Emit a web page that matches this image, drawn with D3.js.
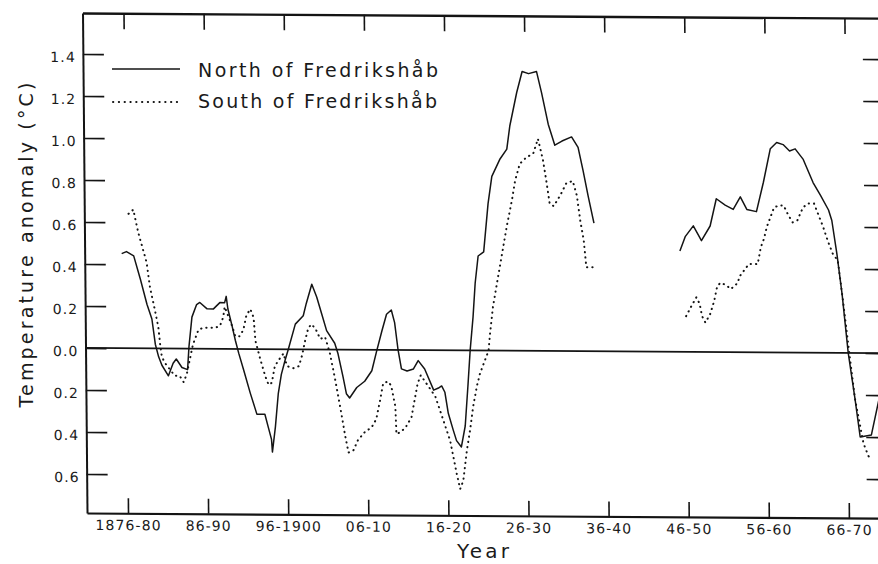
<!DOCTYPE html>
<html><head><meta charset="utf-8">
<script src="https://cdn.jsdelivr.net/npm/d3@7"></script>
<style>
html,body{margin:0;padding:0;background:#fff;}
svg{display:block;}
text{font-family:"DejaVu Sans",sans-serif;fill:#1a1a1a;}
</style></head><body>
<svg id="chart" width="878" height="564"></svg>
<script>
// ---- data ----
const xTickYears = [1878, 1888, 1898, 1908, 1918, 1928, 1938, 1948, 1958, 1968];
const xTickLabels = ["1876-80", "86-90", "96-1900", "06-10", "16-20", "26-30", "36-40", "46-50", "56-60", "66-70"];
const yTickValues = [-0.6, -0.4, -0.2, 0, 0.2, 0.4, 0.6, 0.8, 1.0, 1.2, 1.4];
const yTickLabels = ["0.6", "0.4", "0.2", "0.0", "0.2", "0.4", "0.6", "0.8", "1.0", "1.2", "1.4"];
const seriesNames = ["North of Fredrikshåb", "South of Fredrikshåb"];
const yTitle = "Temperature anomaly (°C)";
const xTitle = "Year";

const northYears = [1877.5,1878.1,1879.0,1879.8,1880.6,1881.2,1881.6,1882.0,1882.4,1883.2,1883.8,1884.2,1884.9,1885.6,1885.8,1886.2,1886.8,1887.2,1888.1,1888.9,1889.7,1890.3,1890.5,1890.7,1891.2,1891.6,1892.0,1892.6,1893.4,1894.2,1895.2,1895.6,1896.0,1896.1,1896.5,1896.9,1897.3,1897.8,1898.2,1899.1,1900.1,1900.5,1901.2,1901.8,1902.4,1903.0,1904.0,1904.4,1905.0,1905.4,1905.8,1906.7,1907.7,1908.6,1909.2,1909.9,1910.5,1911.1,1911.5,1911.9,1912.3,1913.0,1913.8,1914.4,1915.2,1916.3,1916.9,1917.3,1917.7,1918.1,1918.7,1919.1,1919.7,1920.2,1920.6,1920.9,1921.3,1921.6,1922.0,1922.7,1923.3,1923.8,1924.8,1925.7,1926.1,1927.0,1927.7,1928.5,1929.5,1930.1,1930.9,1931.7,1932.6,1933.8,1934.6,1935.2,1935.8,1936.5,1942.0,1947.2,1947.9,1948.9,1949.9,1951.0,1951.8,1952.9,1953.9,1954.8,1955.6,1956.8,1957.7,1958.6,1959.4,1960.2,1961.0,1961.7,1962.7,1963.9,1964.8,1965.8,1966.2,1966.8,1967.4,1968.1,1968.9,1969.5,1970.9,1972.0];
const northValues = [0.45,0.46,0.44,0.33,0.21,0.14,0.02,-0.04,-0.08,-0.13,-0.07,-0.05,-0.09,-0.10,0.01,0.15,0.21,0.22,0.19,0.19,0.22,0.22,0.25,0.19,0.11,0.04,-0.02,-0.10,-0.21,-0.31,-0.31,-0.37,-0.43,-0.49,-0.37,-0.21,-0.12,-0.05,0.00,0.12,0.16,0.22,0.31,0.25,0.17,0.09,0.03,-0.02,-0.13,-0.21,-0.23,-0.18,-0.15,-0.10,-0.01,0.09,0.17,0.19,0.13,0.00,-0.09,-0.10,-0.09,-0.05,-0.09,-0.19,-0.18,-0.17,-0.20,-0.30,-0.38,-0.43,-0.46,-0.36,-0.16,0.00,0.16,0.32,0.45,0.47,0.70,0.83,0.91,0.96,1.07,1.23,1.33,1.32,1.33,1.23,1.08,0.98,1.00,1.02,0.97,0.86,0.74,0.61,null,0.48,0.55,0.60,0.53,0.60,0.73,0.70,0.68,0.74,0.68,0.67,0.81,0.97,1.00,0.99,0.96,0.97,0.92,0.81,0.75,0.68,0.63,0.47,0.28,0.00,-0.22,-0.40,-0.39,-0.20];

const southYears = [1878.4,1879.0,1879.6,1880.6,1881.0,1881.6,1882.0,1882.2,1882.4,1882.8,1883.4,1884.0,1884.6,1885.1,1885.5,1885.9,1886.3,1887.0,1887.6,1888.4,1889.1,1889.7,1890.1,1890.3,1890.8,1891.2,1891.6,1892.1,1892.6,1893.0,1893.5,1893.9,1894.1,1894.7,1895.3,1895.7,1896.1,1896.5,1897.2,1897.6,1898.0,1898.8,1899.5,1899.9,1900.3,1900.7,1901.1,1901.6,1902.2,1902.8,1903.4,1904.0,1904.6,1905.2,1905.6,1906.2,1906.8,1907.7,1908.5,1909.1,1909.6,1910.0,1910.6,1911.0,1911.5,1911.6,1912.2,1912.9,1913.5,1913.9,1914.3,1914.7,1916.5,1918.3,1918.7,1919.1,1919.5,1919.9,1920.4,1920.8,1921.2,1921.7,1922.1,1922.7,1923.2,1923.4,1923.8,1924.7,1925.6,1926.3,1926.7,1927.3,1928.1,1929.0,1929.6,1930.2,1930.6,1931.0,1931.5,1932.3,1933.1,1933.9,1934.4,1934.8,1935.2,1935.5,1936.4,1942.0,1947.9,1948.6,1949.2,1949.6,1949.9,1950.3,1950.9,1951.4,1951.8,1952.2,1952.9,1953.5,1954.4,1954.6,1955.2,1955.8,1956.9,1957.3,1957.7,1958.1,1958.6,1959.0,1959.6,1960.2,1960.7,1961.3,1961.9,1962.6,1963.2,1964.0,1964.5,1965.1,1965.7,1966.3,1966.9,1967.5,1968.2,1968.9,1969.9,1970.5,1970.9];
const southValues = [0.64,0.66,0.55,0.41,0.29,0.18,0.10,0.02,-0.04,-0.07,-0.10,-0.13,-0.13,-0.16,-0.12,-0.05,0.02,0.09,0.10,0.10,0.10,0.11,0.15,0.20,0.15,0.11,0.06,0.06,0.09,0.16,0.19,0.15,0.04,-0.05,-0.13,-0.17,-0.16,-0.08,-0.04,-0.02,-0.08,-0.09,-0.08,-0.03,0.04,0.10,0.12,0.10,0.05,0.06,-0.02,-0.14,-0.27,-0.41,-0.49,-0.48,-0.43,-0.39,-0.37,-0.33,-0.24,-0.16,-0.15,-0.17,-0.27,-0.40,-0.39,-0.36,-0.32,-0.24,-0.16,-0.12,-0.22,-0.43,-0.51,-0.59,-0.66,-0.62,-0.47,-0.38,-0.27,-0.17,-0.11,-0.05,0.00,0.08,0.21,0.40,0.59,0.72,0.81,0.89,0.92,0.94,1.01,0.91,0.81,0.70,0.69,0.74,0.80,0.81,0.74,0.62,0.53,0.40,0.40,null,0.17,0.22,0.26,0.23,0.17,0.14,0.18,0.24,0.31,0.33,0.32,0.30,0.33,0.36,0.39,0.42,0.42,0.50,0.54,0.60,0.65,0.69,0.70,0.70,0.66,0.62,0.63,0.69,0.71,0.71,0.66,0.60,0.53,0.47,0.44,0.25,0.01,-0.22,-0.43,-0.49,-0.51];

// ---- drawing ----
const svg = d3.select("#chart");
const x = d3.scaleLinear().domain([1872.88, 1972.88]).range([87, 888]);
const y = d3.scaleLinear().domain([-0.786, 1.595]).range([513, 13]);

// the scanned original is slightly skewed; reproduce that with a small shear
const sa = 0.009, sb = 0.0065;
const g = svg.append("g")
  .attr("transform", `matrix(1,${sb},${sa},1,${-sa * 513},${-sb * 87})`);

const ink = "#141414";

// zero line
g.append("line")
  .attr("x1", x.range()[0]).attr("x2", x.range()[1])
  .attr("y1", y(0)).attr("y2", y(0))
  .attr("stroke", ink).attr("stroke-width", 1.7);

function styleAxis(sel, domainW) {
  sel.attr("font-family", null).attr("font-size", null);
  sel.select(".domain").attr("stroke", ink).attr("stroke-width", domainW);
  sel.selectAll(".tick line").attr("stroke", ink).attr("stroke-width", 1.6);
  sel.selectAll(".tick text")
    .style("font-family", '"DejaVu Sans", sans-serif')
    .style("font-size", "14px")
    .style("letter-spacing", "1.1px")
    .attr("fill", "#262626");
}

const axL = d3.axisLeft(y)
  .tickValues(yTickValues)
  .tickFormat(d => yTickLabels[yTickValues.indexOf(d)])
  .tickSizeInner(-21).tickSizeOuter(0).tickPadding(7);
const gL = g.append("g").attr("transform", `translate(${x.range()[0]},0)`).call(axL);
styleAxis(gL, 2);
gL.selectAll(".tick text").attr("dy", "0.55em");

const axB = d3.axisBottom(x)
  .tickValues(xTickYears)
  .tickFormat(d => xTickLabels[xTickYears.indexOf(d)])
  .tickSizeInner(-15).tickSizeOuter(0).tickPadding(7);
const gB = g.append("g").attr("transform", `translate(0,${y.range()[0]})`).call(axB);
styleAxis(gB, 2.2);

const axT = d3.axisTop(x)
  .tickValues(xTickYears).tickFormat(() => "")
  .tickSizeInner(-16).tickSizeOuter(0);
const gT = g.append("g").attr("transform", `translate(0,${y.range()[1]})`).call(axT);
styleAxis(gT, 2.4);

const axR = d3.axisRight(y)
  .tickValues(yTickValues).tickFormat(() => "")
  .tickSizeInner(-21).tickSizeOuter(0);
const gR = g.append("g").attr("transform", `translate(${x.range()[1]},0)`).call(axR);
styleAxis(gR, 2);

// series
const north = northYears.map((yr, i) => ({yr, v: northValues[i]}));
const south = southYears.map((yr, i) => ({yr, v: southValues[i]}));
const line = d3.line().defined(d => d.v !== null).x(d => x(d.yr)).y(d => y(d.v));

g.append("path").datum(north)
  .attr("d", line).attr("fill", "none")
  .attr("stroke", ink).attr("stroke-width", 1.5).attr("stroke-linejoin", "round");

g.append("path").datum(south)
  .attr("d", line).attr("fill", "none")
  .attr("stroke", ink).attr("stroke-width", 2)
  .attr("stroke-linecap", "round")
  .attr("stroke-dasharray", "0.3 5");

// legend
const leg = svg.append("g");
leg.append("line").attr("x1", 112).attr("x2", 180).attr("y1", 69).attr("y2", 69)
  .attr("stroke", ink).attr("stroke-width", 1.5);
leg.append("line").attr("x1", 113).attr("x2", 180).attr("y1", 102).attr("y2", 102)
  .attr("stroke", ink).attr("stroke-width", 2).attr("stroke-linecap", "round")
  .attr("stroke-dasharray", "0.3 5.5");
leg.append("text").attr("x", 198).attr("y", 77).attr("font-size", 19)
  .attr("textLength", 240).attr("lengthAdjust", "spacing").text(seriesNames[0]);
leg.append("text").attr("x", 198).attr("y", 108).attr("font-size", 19)
  .attr("textLength", 239).attr("lengthAdjust", "spacing").text(seriesNames[1]);

// axis titles
svg.append("text")
  .attr("transform", "translate(33,245) rotate(-90)")
  .attr("text-anchor", "middle").attr("font-size", 19)
  .attr("textLength", 325).attr("lengthAdjust", "spacing")
  .text(yTitle);
svg.append("text")
  .attr("x", 483).attr("y", 558).attr("text-anchor", "middle")
  .attr("font-size", 20).attr("textLength", 52).attr("lengthAdjust", "spacing")
  .text(xTitle);
</script>
</body></html>
